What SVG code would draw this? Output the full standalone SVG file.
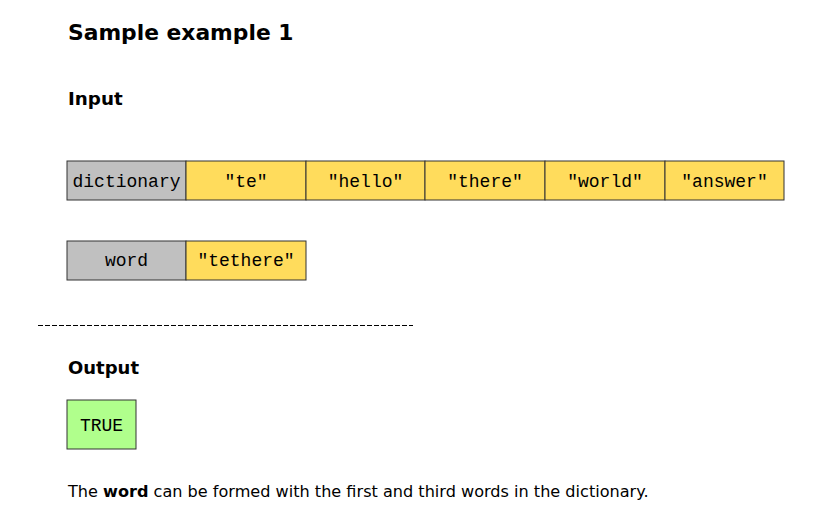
<svg xmlns="http://www.w3.org/2000/svg" width="829" height="520" viewBox="0 0 829 520">
<style>
.h{font-family:"DejaVu Sans",Verdana,sans-serif;font-weight:bold;fill:#000}
.m{font-family:"Liberation Mono","Courier New",monospace;font-size:18px;fill:#000;text-anchor:middle}
.g{fill:#c0c0c0;stroke:#333;stroke-width:1}
.y{fill:#ffdc5c;stroke:#333;stroke-width:1}
.t{fill:#b0ff8c;stroke:#333;stroke-width:1}
.b{font-family:"DejaVu Sans",Verdana,sans-serif;font-size:16.1px;fill:#000}
</style>
<rect width="829" height="520" fill="#fff"/>
<text class="h" x="68" y="40" font-size="21.8">Sample example 1</text>
<text class="h" x="68" y="105" font-size="18.3">Input</text>
<g id="dictionary">
<rect class="g" x="67" y="161" width="119" height="39"/>
<text class="m" x="126.5" y="187">dictionary</text>
</g>
<g id="d1"><rect class="y" x="186" y="161" width="120" height="39"/><text class="m" x="246" y="187">"te"</text></g>
<g id="d2"><rect class="y" x="306" y="161" width="119" height="39"/><text class="m" x="365.5" y="187">"hello"</text></g>
<g id="d3"><rect class="y" x="425" y="161" width="120" height="39"/><text class="m" x="485" y="187">"there"</text></g>
<g id="d4"><rect class="y" x="545" y="161" width="120" height="39"/><text class="m" x="605" y="187">"world"</text></g>
<g id="d5"><rect class="y" x="665" y="161" width="119" height="39"/><text class="m" x="724.5" y="187">"answer"</text></g>
<g id="word">
<rect class="g" x="67" y="241" width="119" height="39"/>
<text class="m" x="126.5" y="266">word</text>
</g>
<g id="w1"><rect class="y" x="186" y="241" width="120" height="39"/><text class="m" x="246" y="266">"tethere"</text></g>
<g id="connectors"></g>
<line x1="38" y1="325.5" x2="413" y2="325.5" stroke="#000" stroke-width="1" stroke-dasharray="5,2"/>
<text class="h" x="68" y="374" font-size="18">Output</text>
<g id="result">
<rect class="t" x="67" y="400" width="69" height="49"/>
<text class="m" x="101.5" y="431" font-size="17">TRUE</text>
</g>
<text class="b" x="68" y="497">The <tspan font-weight="bold">word</tspan> can be formed with the first and third words in the dictionary.</text>
</svg>
